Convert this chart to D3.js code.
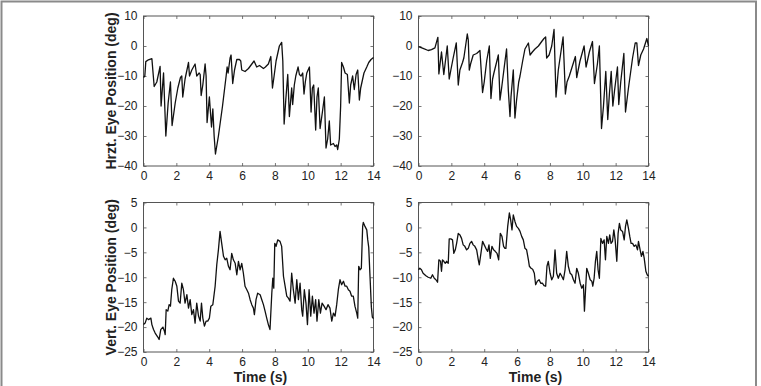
<!DOCTYPE html>
<html>
<head>
<meta charset="utf-8">
<script src="https://cdn.jsdelivr.net/npm/d3@7"></script>
<style>
  html, body { margin: 0; padding: 0; background: #fff; }
  svg { display: block; }
  text { font-family: "Liberation Sans", Arial, Helvetica, sans-serif; fill: #222; }
</style>
</head>
<body>
<svg id="chart" width="761" height="386"></svg>
<script>
// ---------- DATA ----------
const xTicks = [0, 2, 4, 6, 8, 10, 12, 14];
const hrztTicks = [10, 0, -10, -20, -30, -40];
const vertTicks = [5, 0, -5, -10, -15, -20, -25];

// Top-left: horizontal eye position, subject A
const hrztAT = [0,0.08,0.14,0.30,0.51,0.65,0.81,1.01,1.07,1.22,1.36,1.50,1.64,1.74,1.93,2.09,2.25,2.33,2.39,2.53,2.74,2.80,2.94,3.14,3.24,3.39,3.45,3.51,3.61,3.75,3.81,3.87,4.01,4.14,4.22,4.30,4.38,4.56,4.81,5.03,5.09,5.15,5.27,5.33,5.43,5.54,5.68,5.84,5.92,5.98,6.18,6.39,6.73,6.89,7.06,7.30,7.42,7.60,7.75,7.85,7.95,8.07,8.27,8.41,8.48,8.56,8.66,8.78,8.88,8.96,9.02,9.08,9.18,9.27,9.41,9.49,9.59,9.69,9.77,9.85,9.94,10.10,10.20,10.28,10.36,10.48,10.56,10.64,10.75,10.89,11.01,11.11,11.21,11.31,11.39,11.56,11.66,11.76,11.82,11.92,12.00,12.06,12.17,12.27,12.41,12.53,12.61,12.73,12.83,12.94,13.04,13.14,13.22,13.32,13.42,13.59,13.71,13.85,14.0];
const hrztAV = [-10.5,-10,-5.2,-4.6,-4.2,-13.5,-12,-6.8,-20,-9,-30,-19,-12,-26.5,-19,-14,-10.5,-10,-17,-11,-5.5,-10,-8,-6,-10,-9,-9.5,-16.5,-13,-6,-10,-25.5,-17,-27,-21,-30,-36,-30,-20,-10,-7,-9,-4,-3,-12.5,-8,-4.5,-4.5,-5,-8,-8.5,-7.5,-5,-7,-6.5,-7.5,-7,-6,-3.5,-14,-10,-5,0,1.2,-5,-26,-18,-9.5,-23.5,-18,-14,-19.5,-13,-10,-7,-9.5,-10,-9,-16,-12,-9,-7,-22,-14,-13,-28,-17,-14,-27.5,-22,-17,-34,-31,-25,-33,-32.5,-33.5,-33,-34.5,-31,-20,-5.5,-7,-9,-9.5,-19,-13,-10,-14.5,-9.5,-8,-18,-14,-11.5,-9,-7,-5.5,-4.5,-3.8];

// Top-right: horizontal eye position, subject B
const hrztBT = [0,0.28,0.59,0.79,1.00,1.10,1.18,1.24,1.40,1.54,1.75,1.87,1.97,2.11,2.30,2.42,2.52,2.68,2.76,2.97,3.03,3.09,3.17,3.33,3.54,3.74,3.90,4.00,4.15,4.31,4.41,4.51,4.59,4.86,4.96,5.06,5.22,5.36,5.47,5.57,5.63,5.77,5.87,5.97,6.10,6.18,6.34,6.48,6.69,6.79,6.93,7.09,7.30,7.50,7.64,7.74,7.80,7.95,8.11,8.25,8.37,8.51,8.80,8.94,9.04,9.18,9.35,9.55,9.63,9.83,10.08,10.20,10.40,10.59,10.71,10.89,11.01,11.14,11.26,11.40,11.52,11.62,11.73,11.83,11.93,12.11,12.19,12.31,12.50,12.60,12.78,13.03,13.19,13.29,13.39,13.53,13.70,13.90,14.0];
const hrztBV = [-0.2,-0.8,-1.5,-1.2,-0.6,1.4,2.9,-9.3,-2,-9.5,0,-11,-8,-4,1,-13,-8,-5.5,-4,4,2,-8,-6,-3,-2.5,-1.5,-15.5,-12,-5,0,-17.5,-11,-9,-3,-18,-14,-7,-1,-15,-23.5,-17,-8,-24,-18,-12,-10,-5,-1,1,-3,-2,-1,0,1.5,2.5,3,-4,-3,0,5.5,-17,-8,3,-16,-12,-10,-7,-3.5,-10.5,-5,0,-7,-2,1.5,-12.5,-6,0,-27.5,-20,-8.5,-24.5,-16,-8.5,-20,-15,-7,-19.5,-12,-2.5,-22,-14,-4,1,1,-6.5,-3,-1,2.5,0];

// Bottom-left: vertical eye position, subject A
const vertAT = [0,0.10,0.20,0.30,0.45,0.51,0.61,0.71,0.85,0.95,1.05,1.18,1.28,1.32,1.38,1.48,1.56,1.64,1.72,1.82,1.93,2.03,2.13,2.23,2.33,2.43,2.53,2.64,2.74,2.84,2.94,3.04,3.14,3.24,3.35,3.45,3.53,3.61,3.71,3.81,3.91,4.01,4.10,4.22,4.36,4.46,4.56,4.66,4.76,4.87,4.97,5.07,5.17,5.27,5.37,5.47,5.58,5.68,5.78,5.88,5.98,6.08,6.18,6.29,6.39,6.49,6.59,6.69,6.75,6.85,6.95,7.10,7.20,7.30,7.40,7.50,7.60,7.70,7.81,7.87,7.93,7.99,8.07,8.17,8.31,8.41,8.52,8.62,8.72,8.82,8.92,9.02,9.12,9.23,9.33,9.43,9.53,9.63,9.69,9.79,9.89,9.98,10.08,10.18,10.28,10.38,10.48,10.56,10.67,10.77,10.87,10.99,11.11,11.23,11.35,11.46,11.56,11.66,11.76,11.86,11.96,12.06,12.17,12.27,12.37,12.47,12.57,12.67,12.77,12.87,12.98,13.04,13.10,13.18,13.26,13.34,13.38,13.48,13.59,13.65,13.71,13.79,13.87,13.93,14.0];
const vertAV = [-19.5,-19.2,-18.2,-18.5,-18.2,-19.5,-20.5,-21.2,-21.9,-22.5,-20.5,-20,-20.9,-21.5,-16.5,-16.8,-15.5,-15.8,-12.5,-10.2,-10.8,-11.8,-14.8,-15.2,-11.2,-12.5,-15.2,-13.5,-16.2,-14.5,-17.5,-16.5,-19.2,-15.2,-17.8,-18.8,-15.2,-18.2,-19.8,-18.8,-18.8,-18.2,-15.8,-15.5,-11.8,-7.5,-4.5,-0.8,-3.2,-5.8,-6.5,-6.2,-7.8,-8.5,-5.2,-6.5,-7.2,-9.5,-6.8,-8.5,-7.2,-9.2,-11.8,-12.5,-13.2,-14.5,-15.5,-16.2,-17.5,-14.5,-13.2,-13.5,-14.5,-15.5,-16.8,-18.2,-19.5,-20.5,-13.2,-10.2,-12.2,-3.2,-3.8,-2.5,-2.8,-3.8,-9.8,-11.8,-13.8,-14.2,-14.8,-9.2,-12.5,-15.2,-10.5,-14.5,-11.2,-16.5,-17.8,-12.5,-15.2,-19.5,-12.5,-17.8,-13.8,-17.2,-14.5,-18.8,-14.5,-17.2,-15.2,-15.8,-16.5,-15.5,-16.2,-18.8,-17.2,-17.8,-15.5,-12.5,-10.5,-11.5,-10.8,-11.8,-11.8,-12.5,-12.8,-13.8,-13.8,-15.8,-17.2,-18.2,-7.8,-8.5,-8.2,0.2,1,0.2,-0.5,-2.5,-4,-10,-16,-18,-18.3];

// Bottom-right: vertical eye position, subject B
const vertBT = [0,0.08,0.18,0.28,0.45,0.59,0.75,0.85,0.96,1.06,1.16,1.24,1.34,1.40,1.46,1.54,1.63,1.71,1.81,1.87,1.97,2.07,2.15,2.24,2.32,2.42,2.52,2.62,2.72,2.82,2.93,3.03,3.13,3.23,3.33,3.43,3.54,3.64,3.70,3.80,3.90,4.00,4.10,4.21,4.29,4.37,4.47,4.57,4.67,4.78,4.88,4.98,5.08,5.18,5.26,5.32,5.43,5.53,5.61,5.69,5.77,5.87,5.97,6.08,6.18,6.28,6.38,6.48,6.58,6.69,6.75,6.85,6.95,7.05,7.13,7.23,7.34,7.44,7.54,7.64,7.74,7.82,7.90,8.01,8.11,8.21,8.31,8.41,8.51,8.62,8.72,8.82,8.92,9.02,9.12,9.23,9.33,9.43,9.53,9.63,9.73,9.84,9.94,10.04,10.10,10.18,10.24,10.34,10.45,10.55,10.61,10.69,10.77,10.85,10.93,11.01,11.10,11.20,11.30,11.38,11.46,11.56,11.64,11.72,11.81,11.89,11.97,12.07,12.15,12.23,12.31,12.42,12.52,12.60,12.68,12.78,12.86,12.94,13.03,13.13,13.23,13.33,13.39,13.49,13.57,13.66,13.74,13.84,13.92,14.0];
const vertBV = [-8.5,-8.2,-8.5,-9.2,-9.7,-10,-10.2,-9.5,-10.2,-10.5,-11,-6.5,-6.8,-8.8,-6.5,-6.8,-7.2,-6.8,-7.2,-2.3,-2.3,-2.5,-5.2,-4.5,-3.2,-1.2,-1.5,-2.2,-3.5,-3.8,-4.5,-4.2,-3.2,-2.8,-3.5,-3.8,-4.5,-6.5,-7.5,-5.2,-2.8,-3.5,-4.2,-4.8,-3.5,-6.2,-3.8,-4.5,-4.8,-5.2,-6.5,-1.2,-1.8,-3.8,-4.2,-4.2,0.2,2.9,1.5,-0.5,2.5,1.2,0.2,-0.2,-0.8,-1.8,-2.5,-4.2,-4.5,-6.5,-7.8,-8.2,-8.4,-9.2,-11.5,-10.8,-10.5,-11.2,-11.2,-11.7,-11.8,-7.8,-6.8,-9.2,-10.5,-9.8,-4.5,-9.2,-10.2,-9.2,-9.8,-10.5,-8.5,-4.8,-7.8,-9.2,-9.5,-10.5,-11.2,-8.2,-9.2,-11.2,-12.2,-11.5,-16.8,-11.8,-8.2,-9.2,-10.5,-10.8,-11.8,-10.2,-6.8,-4.8,-8.5,-10.2,-2.2,-3.2,-2.5,-6.5,-1.8,-3.2,-1.5,-3.2,-2.8,-0.5,-2.5,-6.8,-1.2,0.8,-0.5,-0.8,-2.5,0.2,1.5,-0.2,-1.8,-3.2,-3.2,-3.8,-3.5,-4.5,-2.8,-4.5,-5.8,-4.8,-6.2,-8.8,-9.5,-9.8];

// ---------- DRAW ----------
const svg = d3.select("#chart");

// outer frame
svg.append("rect")
  .attr("x", 1.5).attr("y", 1.5).attr("width", 754.5).attr("height", 400)
  .attr("fill", "none").attr("stroke", "#8a8a8a").attr("stroke-width", 2);

const colX = [143.5, 418.5];
const panelW = 230;
const rowY = [16, 202.5];
const panelH = [150, 149.5];

function panel(x0, y0, h, yDomain, yTickVals, tArr, vArr, yLabel, xLabel) {
  const x = d3.scaleLinear().domain([0, 14]).range([x0, x0 + panelW]);
  const y = d3.scaleLinear().domain(yDomain).range([y0 + h, y0]);
  const g = svg.append("g");
  const axColor = "#555";

  const bx = g.append("g").attr("transform", `translate(0,${y0 + h})`)
    .call(d3.axisBottom(x).tickValues(xTicks).tickSizeInner(-3).tickSizeOuter(0).tickPadding(5).tickFormat(d3.format("d")));
  const tx = g.append("g").attr("transform", `translate(0,${y0})`)
    .call(d3.axisTop(x).tickValues(xTicks).tickSizeInner(-3).tickSizeOuter(0).tickFormat(""));
  const ly = g.append("g").attr("transform", `translate(${x0},0)`)
    .call(d3.axisLeft(y).tickValues(yTickVals).tickSizeInner(-3).tickSizeOuter(0).tickPadding(6)
      .tickFormat(d => d < 0 ? "\u2212" + Math.abs(d) : String(d)));
  const ry = g.append("g").attr("transform", `translate(${x0 + panelW},0)`)
    .call(d3.axisRight(y).tickValues(yTickVals).tickSizeInner(-3).tickSizeOuter(0).tickFormat(""));
  [bx, tx, ly, ry].forEach(a => {
    a.select(".domain").remove();
    a.selectAll(".tick line").attr("stroke", axColor).attr("stroke-width", 0.8);
    a.selectAll("text").style("font-size", "12px").attr("fill", "#222");
  });
  g.append("rect").attr("x", x0).attr("y", y0).attr("width", panelW).attr("height", h)
    .attr("fill", "none").attr("stroke", axColor).attr("stroke-width", 1);

  const data = tArr.map((t, i) => [t, vArr[i]]);
  g.append("path").datum(data)
    .attr("fill", "none").attr("stroke", "#111").attr("stroke-width", 1.3)
    .attr("stroke-linejoin", "round")
    .attr("d", d3.line().x(d => x(d[0])).y(d => y(d[1])));

  if (yLabel) {
    g.append("text")
      .attr("transform", `translate(${x0 - 28},${y0 + h / 2}) rotate(-90)`)
      .attr("text-anchor", "middle")
      .style("font-size", "14px").style("font-weight", "bold")
      .text(yLabel);
  }
  if (xLabel) {
    g.append("text")
      .attr("x", x0 + panelW / 2 + 2).attr("y", y0 + h + 29.5)
      .attr("text-anchor", "middle")
      .style("font-size", "14px").style("font-weight", "bold")
      .text(xLabel);
  }
}

panel(colX[0], rowY[0], panelH[0], [-40, 10], hrztTicks, hrztAT, hrztAV, "Hrzt. Eye Position (deg)", null);
panel(colX[1], rowY[0], panelH[0], [-40, 10], hrztTicks, hrztBT, hrztBV, null, null);
panel(colX[0], rowY[1], panelH[1], [-25, 5], vertTicks, vertAT, vertAV, "Vert. Eye Position (deg)", "Time (s)");
panel(colX[1], rowY[1], panelH[1], [-25, 5], vertTicks, vertBT, vertBV, null, "Time (s)");
</script>
</body>
</html>
